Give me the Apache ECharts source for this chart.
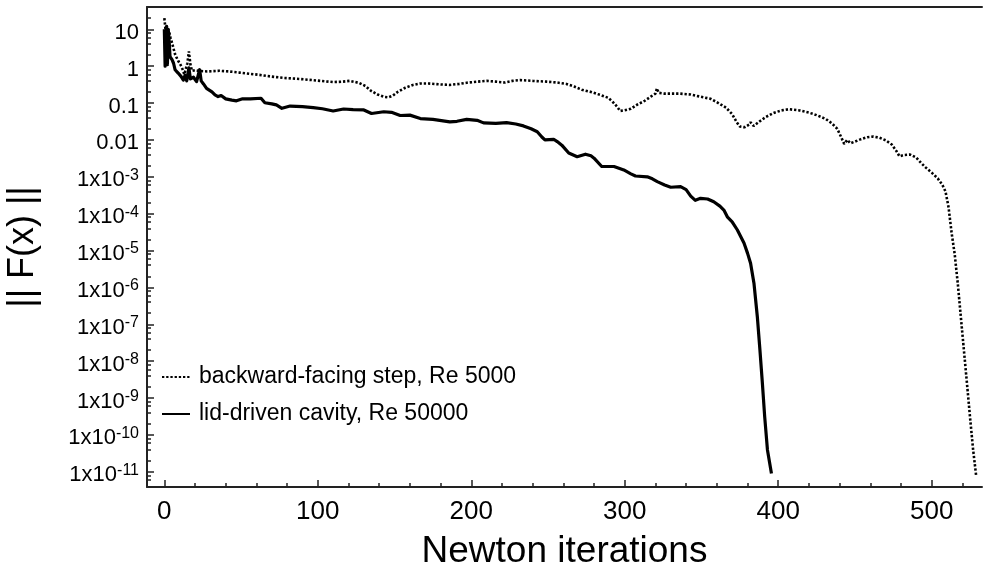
<!DOCTYPE html>
<html><head><meta charset="utf-8">
<script src="https://cdn.jsdelivr.net/npm/echarts@6/dist/echarts.min.js"></script>
<style>html,body{margin:0;padding:0;background:#fff}#c{width:983px;height:570px}</style>
</head><body><div id="c"></div>
<script>
// backward-facing step, Re 5000  [iteration, ||F(x)||]
const bfsData = [
[0,20],[1,8],[2,11],[3,9],[4,6],[5,4.3],[6,3],[7,2.1],[8,1.7],[9,1.4],[10,1.2],[11,1.0],[12,0.8],[13,0.6],[14,0.55],
[15,1.2],[16,2.5],[17,1.1],[18,0.75],[20,0.78],[23,0.74],[28,0.72],[36,0.75],[42,0.72],[49,0.67],[56,0.62],[62,0.58],
[70,0.52],[78,0.48],[88,0.45],[99,0.41],[110,0.37],[116,0.38],[121,0.40],[127,0.35],[131,0.29],[135,0.21],[139,0.17],
[143,0.148],[146,0.143],[149,0.16],[152,0.20],[157,0.26],[162,0.31],[167,0.34],[172,0.34],[180,0.32],[186,0.31],
[192,0.33],[198,0.36],[204,0.38],[210,0.40],[216,0.38],[222,0.36],[227,0.40],[232,0.42],[240,0.40],[249,0.38],
[256,0.36],[262,0.33],[267,0.28],[272,0.23],[278,0.20],[284,0.166],[289,0.14],[292,0.11],[295,0.08],[297,0.061],
[300,0.064],[304,0.07],[308,0.09],[313,0.115],[317,0.15],[320,0.18],[321,0.25],[322,0.19],[326,0.18],[336,0.18],
[343,0.17],[349,0.15],[356,0.13],[361,0.10],[366,0.075],[370,0.05],[373,0.03],[375,0.023],[378,0.022],[381,0.026],
[382,0.03],[384,0.024],[388,0.032],[392,0.042],[397,0.054],[402,0.063],[407,0.068],[414,0.063],[420,0.055],[425,0.047],
[431,0.037],[435,0.028],[438.5,0.02],[441,0.012],[443,0.0078],[445,0.01],[447,0.0081],[450,0.009],[454,0.0105],
[458,0.0118],[462,0.0123],[466,0.0115],[470,0.0098],[474,0.0075],[477,0.005],[479,0.0036],[482,0.0039],[486,0.004],
[490,0.0033],[493,0.0024],[496,0.0018],[500,0.0013],[504,0.0009],[507,0.0006],[509,0.0004],[511,1.5e-4],[513,3e-5],
[515,8e-6],[517,1.3e-6],[519,1.6e-7],[521,2e-8],[523,2.5e-9],[525,3e-10],[527,4e-11],[529,7.7e-12]
];
// lid-driven cavity, Re 50000  [iteration, ||F(x)||]
const ldcData = [
[0,10],[0.5,1.0],[1,9],[1.5,12],[2,1.1],[2.5,10],[3,6],[3.7,1.8],[5,1.5],[6,1.2],[7,0.8],[9,0.65],[11,0.52],[12.4,0.42],
[13.5,0.57],[14.6,0.4],[16,0.9],[17,0.45],[19,0.5],[21,0.38],[23,0.8],[24,0.4],[25.5,0.33],[27.5,0.25],[31,0.2],
[33,0.166],[35,0.15],[37,0.16],[40,0.13],[44,0.12],[47,0.115],[51,0.13],[56,0.13],[63,0.135],[65.5,0.102],[70,0.095],
[73,0.089],[76.6,0.072],[82,0.083],[90,0.08],[97,0.075],[103,0.07],[110,0.061],[116.8,0.069],[123,0.066],[130,0.065],
[135,0.052],[143,0.058],[148,0.056],[153.7,0.046],[160,0.047],[166.8,0.038],[175,0.036],[186,0.031],[190.7,0.032],
[197,0.036],[203.8,0.034],[208,0.029],[216,0.028],[223,0.0295],[229,0.027],[234,0.024],[239,0.02],[243,0.0167],
[246,0.012],[248,0.01],[253.7,0.0104],[256,0.009],[259,0.0072],[263.5,0.0044],[269,0.0035],[274.4,0.0041],[278,0.0037],
[280,0.0032],[285,0.0019],[293,0.0019],[299.4,0.00153],[304,0.0012],[307,0.00105],[314.7,0.001],[318,0.00088],
[321.2,0.00074],[326,0.0006],[330,0.00052],[336.4,0.00054],[340,0.00045],[343,0.0003],[346,0.00023],[349.4,0.00026],
[354,0.00025],[358,0.00021],[362,0.00016],[364.6,0.000125],[367,8e-5],[370,6e-5],[373.4,3.6e-5],[377.7,1.6e-5],
[380,8.5e-6],[382,4.5e-6],[384.2,1.3e-6],[386.4,1.6e-7],[388.1,2e-8],[389.7,2.5e-9],[391.2,3.1e-10],[393,3.9e-11],[395.6,9e-12]
];
const seriesNames = ['backward-facing step, Re 5000', 'lid-driven cavity, Re 50000'];
const xMajorTicks = [0,100,200,300,400,500];
const xMinorTicks = [20,40,60,80,120,140,160,180,220,240,260,280,320,340,360,380,420,440,460,480,520];
const yMajorTicks = [10,1,0.1,0.01,1e-3,1e-4,1e-5,1e-6,1e-7,1e-8,1e-9,1e-10,1e-11];
const yTickLabels = ['10','1','0.1','0.01','1x10^-3','1x10^-4','1x10^-5','1x10^-6','1x10^-7','1x10^-8','1x10^-9','1x10^-10','1x10^-11'];
const yMinorMantissas = [2,4,6,8];
const xName = 'Newton iterations';
const yName = '|| F(x) ||';

const FONT = "'Liberation Sans', Arial, Helvetica, sans-serif";
const X_MIN = -11.3, X_MAX = 532.8;
const Y_MIN = Math.pow(10, -11.414), Y_MAX = Math.pow(10, 1.605);

const yMinorTicks = [];
for (let e = -12; e <= 1; e++) {
  yMinorMantissas.forEach(m => {
    const v = m * Math.pow(10, e);
    if (v > Y_MIN * 1.05 && v < Y_MAX * 0.95) yMinorTicks.push(v);
  });
}

function yLabel(v) {
  let idx = -1;
  yMajorTicks.forEach((t, i) => { if (Math.abs(Math.log10(t) - Math.log10(v)) < 1e-6) idx = i; });
  if (idx < 0) return '';
  const s = yTickLabels[idx];
  const p = s.indexOf('^');
  if (p < 0) return '{m|' + s + '}';
  return '{m|' + s.slice(0, p) + '}{s|' + s.slice(p + 1) + '}';
}

const axisColor = '#222';
const chart = echarts.init(document.getElementById('c'), null, {renderer: 'canvas'});
chart.setOption({
  animation: false,
  backgroundColor: '#fff',
  grid: {left: 147, right: 1, top: 7, bottom: 83, containLabel: false, outerBoundsMode: 'none'},
  legend: {
    data: seriesNames, orient: 'vertical', left: 161, top: 364, padding: 0,
    itemWidth: 28, itemHeight: 14, itemGap: 11, selectedMode: false,
    itemStyle: {color: 'rgba(0,0,0,0)', borderWidth: 0, opacity: 0},
    textStyle: {fontSize: 23, lineHeight: 26, color: '#000', fontFamily: FONT, padding: [0, 0, 0, 4]}
  },
  xAxis: [
    {
      type: 'value', min: X_MIN, max: X_MAX, position: 'bottom',
      name: xName, nameLocation: 'middle', nameGap: 46,
      nameTextStyle: {fontSize: 37, color: '#000', fontFamily: FONT},
      axisLine: {show: true, onZero: false, lineStyle: {color: axisColor, width: 2}},
      axisTick: {show: true, inside: true, length: 7, customValues: xMajorTicks, lineStyle: {color: axisColor, width: 1.5}},
      axisLabel: {customValues: xMajorTicks, fontSize: 26, color: '#000', fontFamily: FONT, margin: 12},
      splitLine: {show: false}
    },
    {
      type: 'value', min: X_MIN, max: X_MAX, position: 'bottom',
      axisLine: {show: false, onZero: false},
      axisTick: {show: true, inside: true, length: 4, customValues: xMinorTicks, lineStyle: {color: axisColor, width: 1.5}},
      axisLabel: {show: false}, splitLine: {show: false}
    },
    {
      type: 'value', min: X_MIN, max: X_MAX, position: 'top',
      axisLine: {show: true, onZero: false, lineStyle: {color: axisColor, width: 2}},
      axisTick: {show: false}, axisLabel: {show: false}, splitLine: {show: false}
    }
  ],
  yAxis: [
    {
      type: 'log', logBase: 10, min: Y_MIN, max: Y_MAX, position: 'left',
      name: yName, nameLocation: 'middle', nameGap: 106, nameRotate: 90,
      nameTextStyle: {fontSize: 36, color: '#000', fontFamily: FONT},
      axisLine: {show: true, onZero: false, lineStyle: {color: axisColor, width: 2}},
      axisTick: {show: true, inside: true, length: 7, customValues: yMajorTicks, lineStyle: {color: axisColor, width: 1.5}},
      axisLabel: {
        customValues: yMajorTicks, margin: 8, formatter: yLabel, padding: [5, 0, 0, 0],
        rich: {
          m: {fontSize: 22, color: '#000', fontFamily: FONT, lineHeight: 24, verticalAlign: 'bottom'},
          s: {fontSize: 16, color: '#000', fontFamily: FONT, lineHeight: 16, verticalAlign: 'top'}
        }
      },
      splitLine: {show: false}, minorTick: {show: false}
    },
    {
      type: 'log', logBase: 10, min: Y_MIN, max: Y_MAX, position: 'left',
      axisLine: {show: false, onZero: false},
      axisTick: {show: true, inside: true, length: 4, customValues: yMinorTicks, lineStyle: {color: axisColor, width: 1.5}},
      axisLabel: {show: false}, splitLine: {show: false}
    }
  ],
  series: [
    {
      name: seriesNames[0], type: 'line', data: bfsData, xAxisIndex: 0, yAxisIndex: 0,
      symbol: 'none', showSymbol: false, clip: true,
      lineStyle: {color: '#000', width: 2.6, type: [2.3, 1.9], cap: 'butt'},
      itemStyle: {color: '#000'}
    },
    {
      name: seriesNames[1], type: 'line', data: ldcData, xAxisIndex: 0, yAxisIndex: 0,
      symbol: 'none', showSymbol: false, clip: true,
      lineStyle: {color: '#000', width: 3.2, join: 'round'},
      itemStyle: {color: '#000'}
    }
  ]
});
</script></body></html>
